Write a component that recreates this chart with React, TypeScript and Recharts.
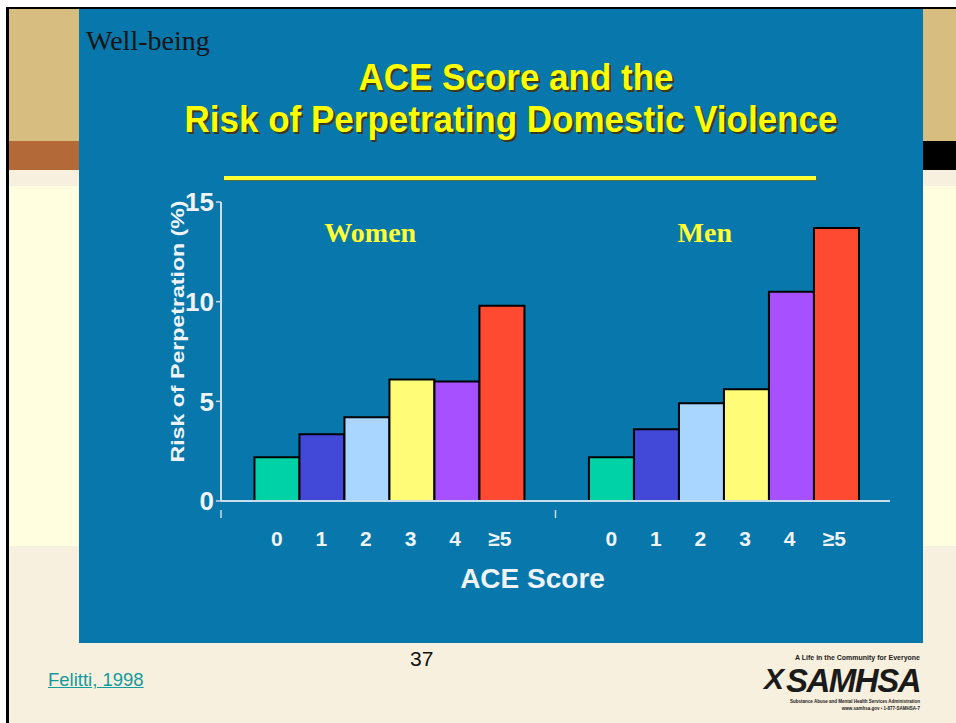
import { BarChart, Bar, XAxis, YAxis, Label } from 'recharts';

const groups = ['Women', 'Men'];
const scoreLabels = ['0', '1', '2', '3', '4', '≥5'];
const womenRisk = [2.2, 3.35, 4.2, 6.1, 6.0, 9.8];
const menRisk = [2.2, 3.6, 4.9, 5.6, 10.5, 13.7];
const yTicks = [0, 5, 10, 15];

const barColors = ['#00D2A8', '#4248D8', '#A8D6FF', '#FFFC78', '#A650FF', '#FF4A32'];

const data = groups.map((g, gi) => {
  const row: Record<string, string | number> = { group: g };
  const vals = gi === 0 ? womenRisk : menRisk;
  scoreLabels.forEach((_, i) => {
    row['s' + i] = vals[i];
  });
  return row;
});

const CHART_W = 844;
const CHART_H = 470;
const MARGIN = { top: 52, right: 33, left: 82, bottom: 24 };
const Y_AXIS_W = 60;
const PLOT_W = CHART_W - MARGIN.left - MARGIN.right - Y_AXIS_W;
const X_AXIS_H = 95;
const PLOT_H = CHART_H - MARGIN.top - MARGIN.bottom - X_AXIS_H;
const BAND = PLOT_W / groups.length;
const BAR_W = (BAND * 0.8) / scoreLabels.length;

const axisColor = '#C9DDEA';
const textWhite = '#EEF3F7';
const sans = 'Liberation Sans, Arial, sans-serif';

function GroupTick(props: any) {
  const { x, y, payload } = props;
  return (
    <g>
      <line x1={x - BAND / 2} x2={x - BAND / 2} y1={y + 1} y2={y + 9} stroke={axisColor} strokeWidth={1.5} />
      {scoreLabels.map((s, i) => (
        <text
          key={s}
          x={x + (i - 2.5) * BAR_W}
          y={y + 37}
          textAnchor="middle"
          fill={textWhite}
          fontSize={21}
          fontWeight="bold"
          fontFamily={sans}
        >
          {s}
        </text>
      ))}
      <text
        x={x - 18}
        y={y - PLOT_H + 32}
        textAnchor="middle"
        fill="#FFFF33"
        fontSize={28}
        fontWeight="bold"
        fontFamily="Liberation Serif, Times New Roman, serif"
      >
        {payload.value}
      </text>
    </g>
  );
}

function YLabel(props: any) {
  const { viewBox } = props;
  const cx = viewBox.x + 16;
  const cy = viewBox.y + viewBox.height / 2 - 20;
  return (
    <text
      x={cx}
      y={cy}
      transform={`rotate(-90, ${cx}, ${cy})`}
      textAnchor="middle"
      dominantBaseline="central"
      fill={textWhite}
      fontSize={19}
      fontWeight="bold"
      fontFamily={sans}
      textLength={262}
      lengthAdjust="spacingAndGlyphs"
    >
      Risk of Perpetration (%)
    </text>
  );
}

const abs = (l: number, t: number, w: number, h: number, bg: string) => (
  <div style={{ position: 'absolute', left: l, top: t, width: w, height: h, background: bg }} />
);

const titleStyle: React.CSSProperties = {
  position: 'absolute',
  textAlign: 'center',
  color: '#FFFF00',
  fontFamily: sans,
  fontWeight: 'bold',
  fontSize: 35,
  lineHeight: '40px',
  textShadow: '2px 2px 0 #3B3A20',
  transform: 'scaleY(1.05)',
  whiteSpace: 'nowrap',
};

export default function App() {
  return (
    <div style={{ position: 'absolute', left: 0, top: 0, width: 956, height: 723, background: '#FFFFFF', overflow: 'hidden' }}>
      {abs(6, 7, 950, 716, '#000000')}
      {abs(9, 9, 947, 714, '#F8F0DE')}
      {abs(9, 9, 947, 132, '#D7BE80')}
      {abs(9, 141, 70, 29, '#B46A38')}
      {abs(922, 141, 34, 29, '#000000')}
      {abs(9, 186, 947, 360, '#FFFFE0')}
      {abs(79, 9, 844, 634, '#0877AB')}

      <div style={{ position: 'absolute', left: 86, top: 25, fontFamily: 'Liberation Serif, Times New Roman, serif', fontSize: 28, color: '#151515' }}>
        Well-being
      </div>
      <div style={{ ...titleStyle, top: 57, left: 94, width: 844 }}>ACE Score and the</div>
      <div style={{ ...titleStyle, top: 99, left: 89, width: 844 }}>Risk of Perpetrating Domestic Violence</div>
      <div style={{ position: 'absolute', left: 224, top: 176, width: 592, height: 4, background: '#FFFF33', boxShadow: '1px 1px 0 #5A6A30' }} />

      <div style={{ position: 'absolute', left: 79, top: 150 }}>
        <BarChart
          width={CHART_W}
          height={CHART_H}
          data={data}
          margin={MARGIN}
          barCategoryGap="10%"
          barGap={0}
        >
          <XAxis
            dataKey="group"
            height={X_AXIS_H}
            axisLine={{ stroke: axisColor, strokeWidth: 2 }}
            tickLine={false}
            tick={<GroupTick />}
            interval={0}
          >
            <Label
              value="ACE Score"
              position="insideBottom"
              offset={8}
              dx={-23}
              fill={textWhite}
              fontSize={28}
              fontWeight="bold"
              fontFamily={sans}
            />
          </XAxis>
          <YAxis
            width={Y_AXIS_W}
            domain={[0, 15]}
            ticks={yTicks}
            interval={0}
            axisLine={{ stroke: axisColor, strokeWidth: 2 }}
            tickLine={{ stroke: axisColor, strokeWidth: 1.5 }}
            tickSize={5}
            tickMargin={2}
            tick={{ fill: textWhite, fontSize: 26, fontWeight: 'bold', fontFamily: sans }}
          >
            <Label content={<YLabel />} />
          </YAxis>
          {scoreLabels.map((s, i) => (
            <Bar
              key={s}
              dataKey={'s' + i}
              name={s}
              fill={barColors[i]}
              stroke="#000000"
              strokeWidth={2}
              isAnimationActive={false}
            />
          ))}
        </BarChart>
      </div>

      <div style={{ position: 'absolute', left: 410, top: 647, fontFamily: sans, fontSize: 21, color: '#111' }}>37</div>
      <div style={{ position: 'absolute', left: 48, top: 669, fontFamily: sans, fontSize: 18.5, color: '#139A9C', textDecoration: 'underline' }}>
        Felitti, 1998
      </div>

      <div style={{ position: 'absolute', left: 764, top: 654, width: 158, height: 58, fontFamily: sans, color: '#1A1A1A' }}>
        <div style={{ position: 'absolute', right: 2, top: 0, fontSize: 7, lineHeight: '8px', fontWeight: 'bold', whiteSpace: 'nowrap' }}>A Life in the Community for Everyone</div>
        <div style={{ position: 'absolute', left: 0, top: 10, fontSize: 30, fontWeight: 'bold', fontStyle: 'italic', lineHeight: '30px' }}>X</div>
        <div style={{ position: 'absolute', right: 2, top: 11, fontSize: 33, fontWeight: 'bold', fontStyle: 'italic', lineHeight: '32px', letterSpacing: -1.5 }}>SAMHSA</div>
        <div style={{ position: 'absolute', right: 2, top: 45, fontSize: 4.5, lineHeight: '5px', fontWeight: 'bold', whiteSpace: 'nowrap' }}>Substance Abuse and Mental Health Services Administration</div>
        <div style={{ position: 'absolute', right: 2, top: 52, fontSize: 4.5, lineHeight: '5px', fontWeight: 'bold', whiteSpace: 'nowrap' }}>www.samhsa.gov • 1-877-SAMHSA-7</div>
      </div>
    </div>
  );
}
